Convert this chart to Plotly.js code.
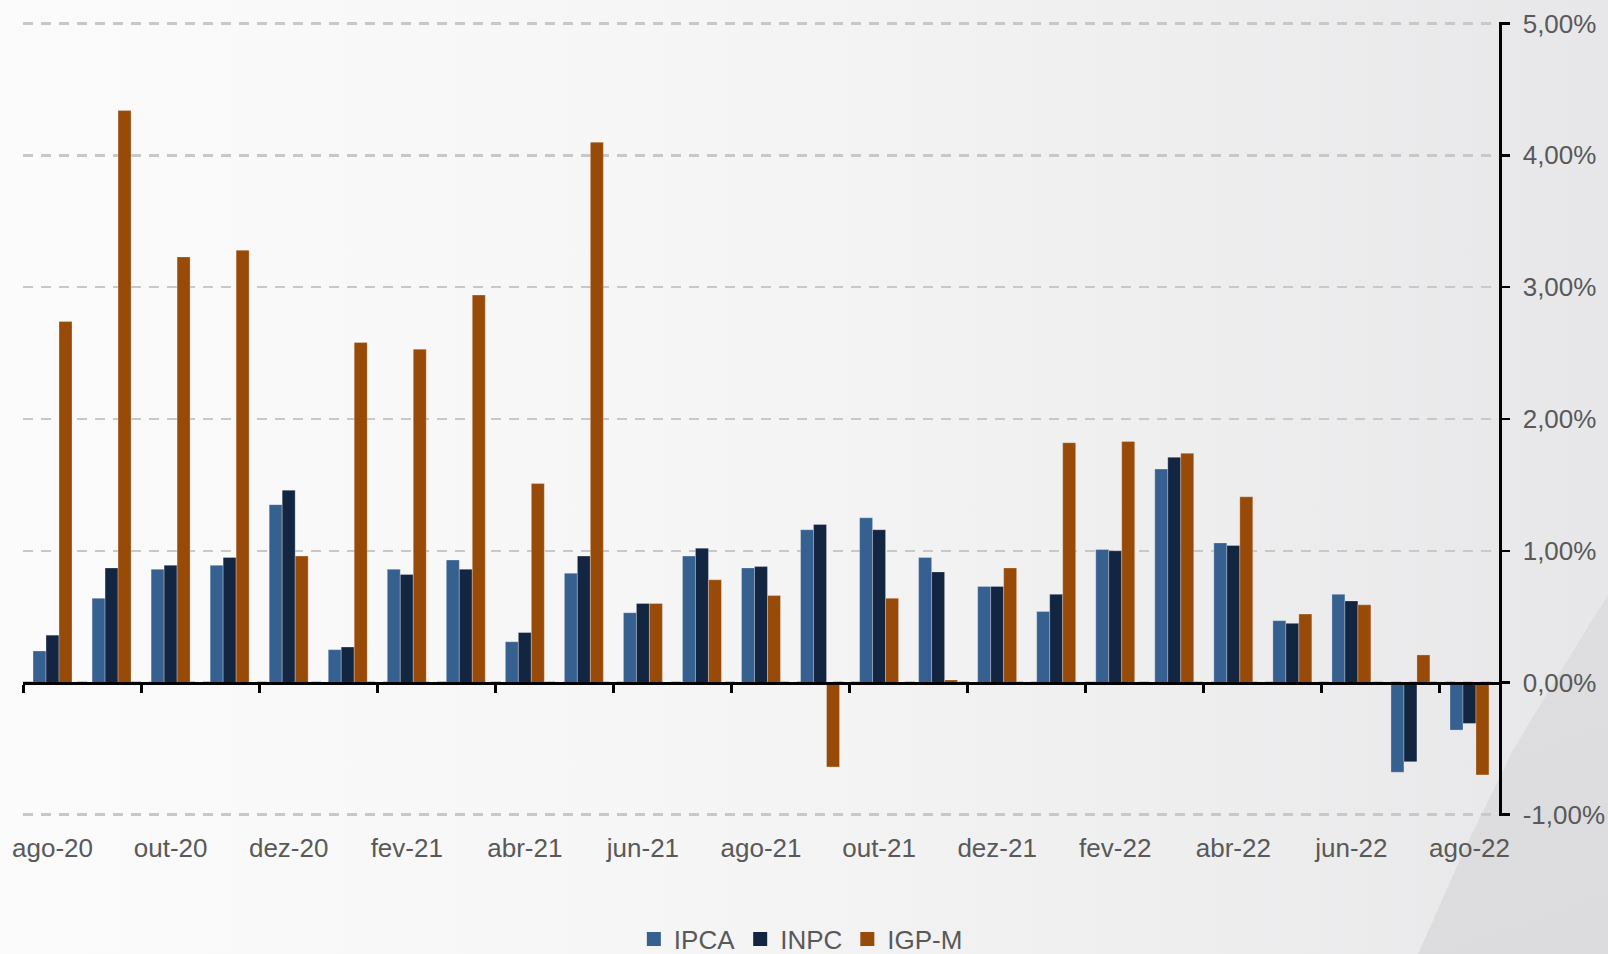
<!DOCTYPE html>
<html>
<head>
<meta charset="utf-8">
<script src="https://cdn.plot.ly/plotly-3.0.1.min.js"></script>
<style>
  html, body { margin: 0; padding: 0; }
  body {
    width: 1608px; height: 954px; overflow: hidden; position: relative;
    background: linear-gradient(90deg, #fbfbfb 0%, #f6f6f7 40%, #eeeeef 75%, #e7e7e9 100%);
  }
  #swoosh {
    position: absolute; left: 0; top: 0; width: 1608px; height: 954px;
    background: linear-gradient(160deg, #e4e4e6 0%, #dcdcde 100%);
    clip-path: polygon(1608px 595px, 1560px 672px, 1513px 750px, 1465px 848px, 1418px 954px, 1608px 954px);
  }
  #chart { position: absolute; left: 0; top: 0; width: 1608px; height: 954px; }
</style>
</head>
<body>
<div id="swoosh"></div>
<div id="chart"></div>
<script>
const categories = ["ago-20","set-20","out-20","nov-20","dez-20",
  "jan-21","fev-21","mar-21","abr-21","mai-21","jun-21","jul-21","ago-21","set-21","out-21","nov-21","dez-21",
  "jan-22","fev-22","mar-22","abr-22","mai-22","jun-22","jul-22","ago-22"];
const ipca = [0.24,0.64,0.86,0.89,1.35, 0.25,0.86,0.93,0.31,0.83,0.53,0.96,0.87,1.16,1.25,0.95,0.73, 0.54,1.01,1.62,1.06,0.47,0.67,-0.68,-0.36];
const inpc = [0.36,0.87,0.89,0.95,1.46, 0.27,0.82,0.86,0.38,0.96,0.60,1.02,0.88,1.20,1.16,0.84,0.73, 0.67,1.00,1.71,1.04,0.45,0.62,-0.60,-0.31];
const igpm = [2.74,4.34,3.23,3.28,0.96, 2.58,2.53,2.94,1.51,4.10,0.60,0.78,0.66,-0.64,0.64,0.02,0.87, 1.82,1.83,1.74,1.41,0.52,0.59,0.21,-0.70];
const seriesNames = ["IPCA","INPC","IGP-M"];
const seriesColors = ["#36608f","#122541","#984a09"];
const yTicks = [-1, 0, 1, 2, 3, 4, 5];
const yTickText = yTicks.map(v => v.toFixed(2).replace(".", ",") + "%");
const yMin = -1, yMax = 5;

const labelIdx = categories.map((c,i)=>i).filter(i=>i%2===0);
const boundaryTicks = labelIdx.map(i => i - 0.5);
const textColor = "#595959";
const fontFamily = "'Liberation Sans', Arial, sans-serif";

const traces = [ipca, inpc, igpm].map((vals, k) => ({
  type: "bar",
  name: seriesNames[k],
  x: categories,
  y: vals,
  xaxis: "x",
  yaxis: "y",
  showlegend: false,
  marker: { color: seriesColors[k], line: { color: "rgba(255,255,255,0.35)", width: 0.8 } },
  hoverinfo: "x+y+name"
}));
// legend entries with square swatches
seriesNames.forEach((nm, k) => traces.push({
  type: "scatter",
  mode: "markers",
  name: nm,
  x: [null], y: [null],
  xaxis: "x", yaxis: "y",
  marker: { symbol: "square", size: 14, color: seriesColors[k] },
  showlegend: true,
  hoverinfo: "skip"
}));
// invisible helper trace so the zero-line axis (ticks at category boundaries) is drawn
traces.push({
  type: "scatter",
  mode: "markers",
  x: boundaryTicks,
  y: boundaryTicks.map(() => 0),
  xaxis: "x2",
  yaxis: "y",
  marker: { opacity: 0, size: 1 },
  showlegend: false,
  hoverinfo: "skip"
});

const pad = 0.012;
const layout = {
  width: 1608, height: 954,
  paper_bgcolor: "rgba(0,0,0,0)",
  plot_bgcolor: "rgba(0,0,0,0)",
  margin: { l: 23, r: 109, t: 22, b: 138, autoexpand: false },
  font: { family: fontFamily, size: 26, color: textColor },
  barmode: "group",
  bargap: 0.34,
  bargroupgap: 0,
  showlegend: true,
  legend: {
    orientation: "h",
    x: 0.527, xanchor: "center",
    y: -0.155, yanchor: "middle",
    font: { family: fontFamily, size: 26, color: textColor },
    bgcolor: "rgba(0,0,0,0)",
    traceorder: "normal",
    itemwidth: 30,
    itemclick: false
  },
  xaxis: {
    type: "category",
    categoryorder: "array",
    categoryarray: categories,
    range: [-0.5, categories.length - 0.5],
    tickvals: labelIdx.map(i => categories[i]),
    ticktext: labelIdx.map(i => categories[i]),
    ticks: "",
    showline: false,
    showgrid: false,
    zeroline: false,
    ticklabelstandoff: 14,
    tickfont: { family: fontFamily, size: 26, color: textColor },
    fixedrange: true
  },
  xaxis2: {
    type: "linear",
    overlaying: "x",
    anchor: "free",
    position: (0 - (yMin - pad)) / ((yMax + pad) - (yMin - pad)),
    range: [-0.5, categories.length - 0.5],
    tickmode: "array",
    tickvals: boundaryTicks,
    showticklabels: false,
    ticks: "outside",
    ticklen: 8,
    tickwidth: 3,
    tickcolor: "#000000",
    showline: true,
    linecolor: "#000000",
    linewidth: 3,
    showgrid: false,
    zeroline: false,
    fixedrange: true
  },
  yaxis: {
    side: "right",
    range: [yMin - pad, yMax + pad],
    tickmode: "array",
    tickvals: yTicks,
    ticktext: yTickText,
    ticks: "outside",
    ticklen: 8,
    tickwidth: 2.5,
    tickcolor: "#000000",
    showline: true,
    linecolor: "#000000",
    linewidth: 2.5,
    showgrid: true,
    gridcolor: "#c8c8c8",
    gridwidth: 2.5,
    griddash: "10px,8px",
    zeroline: false,
    ticklabelstandoff: 8,
    tickfont: { family: fontFamily, size: 26, color: textColor },
    fixedrange: true
  }
};

Plotly.newPlot("chart", traces, layout, { staticPlot: true, displayModeBar: false });
</script>
</body>
</html>
